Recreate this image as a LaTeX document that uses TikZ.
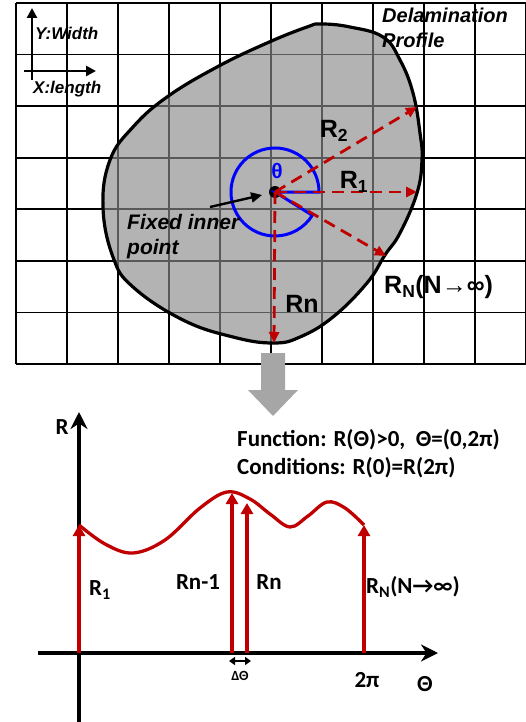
\documentclass[tikz,border=0pt]{standalone}
\usepackage{fontspec}
\setmainfont{Liberation Sans}
\newfontfamily\calibfont{Carlito}
\usetikzlibrary{arrows.meta}
\definecolor{darkred}{RGB}{192,0,0}
\definecolor{pureblue}{RGB}{0,0,255}
\tikzset{
  gridline/.style={line width=1.8pt, black},
  radline/.style={darkred, line width=2.8pt, dash pattern=on 12pt off 7pt, -{Triangle[length=11pt,width=10pt]}},
  redup/.style={darkred, line width=3.3pt, -{Triangle[length=11pt,width=12pt]}},
  axisline/.style={black, line width=3.6pt, -{Stealth[length=17pt,width=17pt]}},
  toplabel/.style={font=\bfseries\fontsize{25}{28}\selectfont, inner sep=0pt},
  italabel/.style={font=\bfseries\itshape\fontsize{20}{25}\selectfont, inner sep=0pt, align=left},
  botlabel/.style={font=\calibfont\bfseries\fontsize{23}{28}\selectfont, inner sep=0pt}
}
\begin{document}
\begin{tikzpicture}[x=1pt, y=-1pt]
    \useasboundingbox (0,0) rectangle (525,722);

    % Grid
    \foreach \i in {0,...,10}
        \draw[gridline] (16+51*\i,3) -- (16+51*\i,364);
    \foreach \j in {0,...,7}
        \draw[gridline] (16,3+51.57*\j) -- (526,3+51.57*\j);

    % Delamination shape
    \filldraw[draw=black, line width=3.2pt, fill=black!46, fill opacity=0.65]
        plot[smooth cycle, tension=0.7] coordinates {
        (321,24) (350,27) (383,37) (400,60) (413,93) (420,133) (422,160)
        (417,193) (400,233) (385,255) (367,283) (333,317) (300,337) (273,343)
        (233,337) (183,320) (133,287) (113,257) (103,207) (110,160) (133,127)
        (167,97) (217,67) (267,43) (307,27)};

    % Axes legend
    \coordinate (yfoot) at (32,80);
    \coordinate (yhead) at (32,8);
    \coordinate (xfoot) at (24,71);
    \coordinate (xhead) at (96,71);
    \draw[black, line width=2.6pt, -{Triangle[length=10pt,width=10pt]}] (yfoot) -- (yhead);
    \draw[black, line width=2.6pt, -{Triangle[length=10pt,width=10pt]}] (xfoot) -- (xhead);
    \node[italabel, font=\bfseries\itshape\fontsize{17}{20}\selectfont, anchor=west] (ywidth) at (35,33) {Y:Width};
    \node[italabel, font=\bfseries\itshape\fontsize{17}{20}\selectfont, anchor=west] (xlength) at (33,89) {X:length};
    \node[italabel, anchor=north west] (delam) at (382,8) {Delamination\\Profile};

    % Centre point and angle
    \node[circle, fill=black, inner sep=0pt, minimum size=12pt] (ctr) at (275,192) {};
    \draw[pureblue, line width=3pt] (ctr.center) -- ++(44,0) arc[start angle=0, end angle=-328, radius=44] -- cycle;
    \node[font=\bfseries\fontsize{21}{24}\selectfont, text=pureblue, inner sep=0pt] (theta) at (277,171) {θ};

    % Radii
    \coordinate (r2end) at (417,107);
    \coordinate (r1end) at (417,192);
    \coordinate (rNend) at (386,256);
    \coordinate (rnend) at (274,343);
    \draw[radline] (ctr.center) -- (r2end);
    \draw[radline] (ctr.center) -- (r1end);
    \draw[radline] (ctr.center) -- (rNend);
    \draw[radline] (ctr.center) -- (rnend);
    \node[toplabel] (r2lab) at (334,131) {R\textsubscript{2}};
    \node[toplabel] (r1lab) at (354,182) {R\textsubscript{1}};
    \node[toplabel] (rnlab) at (302,304) {Rn};
    \node[toplabel, anchor=west] (rNlab) at (384,287) {R\textsubscript{N}(N{\mdseries→}∞)};

    % Fixed inner point
    \node[italabel, font=\bfseries\itshape\fontsize{21}{25}\selectfont, anchor=north west] (fixed) at (127,214) {Fixed inner\\point};
    \coordinate (fixtail) at (210,207);
    \draw[black, line width=2.4pt, -{Triangle[length=11pt,width=10pt]}, shorten >=7pt] (fixtail) -- (ctr);

    % Transform arrow
    \fill[black!35] (261,353) -- (285,353) -- (285,390) -- (298,390) -- (273,416)
        -- (248,390) -- (261,390) -- cycle;

    % Plot axes
    \coordinate (origin) at (79,653);
    \coordinate (vfoot) at (79,722);
    \coordinate (vhead) at (79,412);
    \coordinate (hfoot) at (38,653);
    \coordinate (hhead) at (438,653);
    \draw[axisline] (vfoot) -- (vhead);
    \draw[axisline] (hfoot) -- (hhead);
    \node[botlabel] (rax) at (62,427) {R};
    \node[botlabel] (thax) at (425,684) {Θ};
    \node[botlabel] (twopi) at (367,680) {2π};

    % R(theta) curve
    \draw[darkred, line width=3.3pt] plot[smooth, tension=0.6] coordinates {
        (79,525) (105,544) (133,553) (165,540) (200,508) (227,492) (250,499)
        (270,514) (290,527) (308,516) (327,502) (345,508) (364,525)};

    % Samples
    \coordinate (b1) at (79,653);    \coordinate (t1) at (79,525);
    \coordinate (bm) at (232,653);   \coordinate (tm) at (232,493);
    \coordinate (bn) at (247,653);   \coordinate (tn) at (247,503);
    \coordinate (bN) at (364,653);   \coordinate (tN) at (364,525);
    \draw[redup] (b1) -- (t1);
    \draw[redup] (bm) -- (tm);
    \draw[redup] (bn) -- (tn);
    \draw[redup] (bN) -- (tN);
    \node[botlabel] (r1b) at (100,590) {R\textsubscript{1}};
    \node[botlabel] (rmb) at (198,582) {Rn-1};
    \node[botlabel] (rnb) at (269,582) {Rn};
    \node[botlabel, anchor=west] (rNb) at (366,587) {R\textsubscript{N}(N→∞)};

    % Delta theta
    \coordinate (dl) at (229,661);
    \coordinate (dr) at (251,661);
    \draw[black, line width=1.8pt, {Triangle[length=6pt,width=8pt]}-{Triangle[length=6pt,width=8pt]}] (dl) -- (dr);
    \node[botlabel, font=\calibfont\bfseries\fontsize{14}{16}\selectfont] (dth) at (240,676) {ΔΘ};

    % Function text
    \node[botlabel, anchor=west] (func) at (237,440) {Function: R(Θ)>0,\ \ Θ=(0,2π)};
    \node[botlabel, anchor=west] (cond) at (237,468) {Conditions: R(0)=R(2π)};
\end{tikzpicture}
\end{document}
